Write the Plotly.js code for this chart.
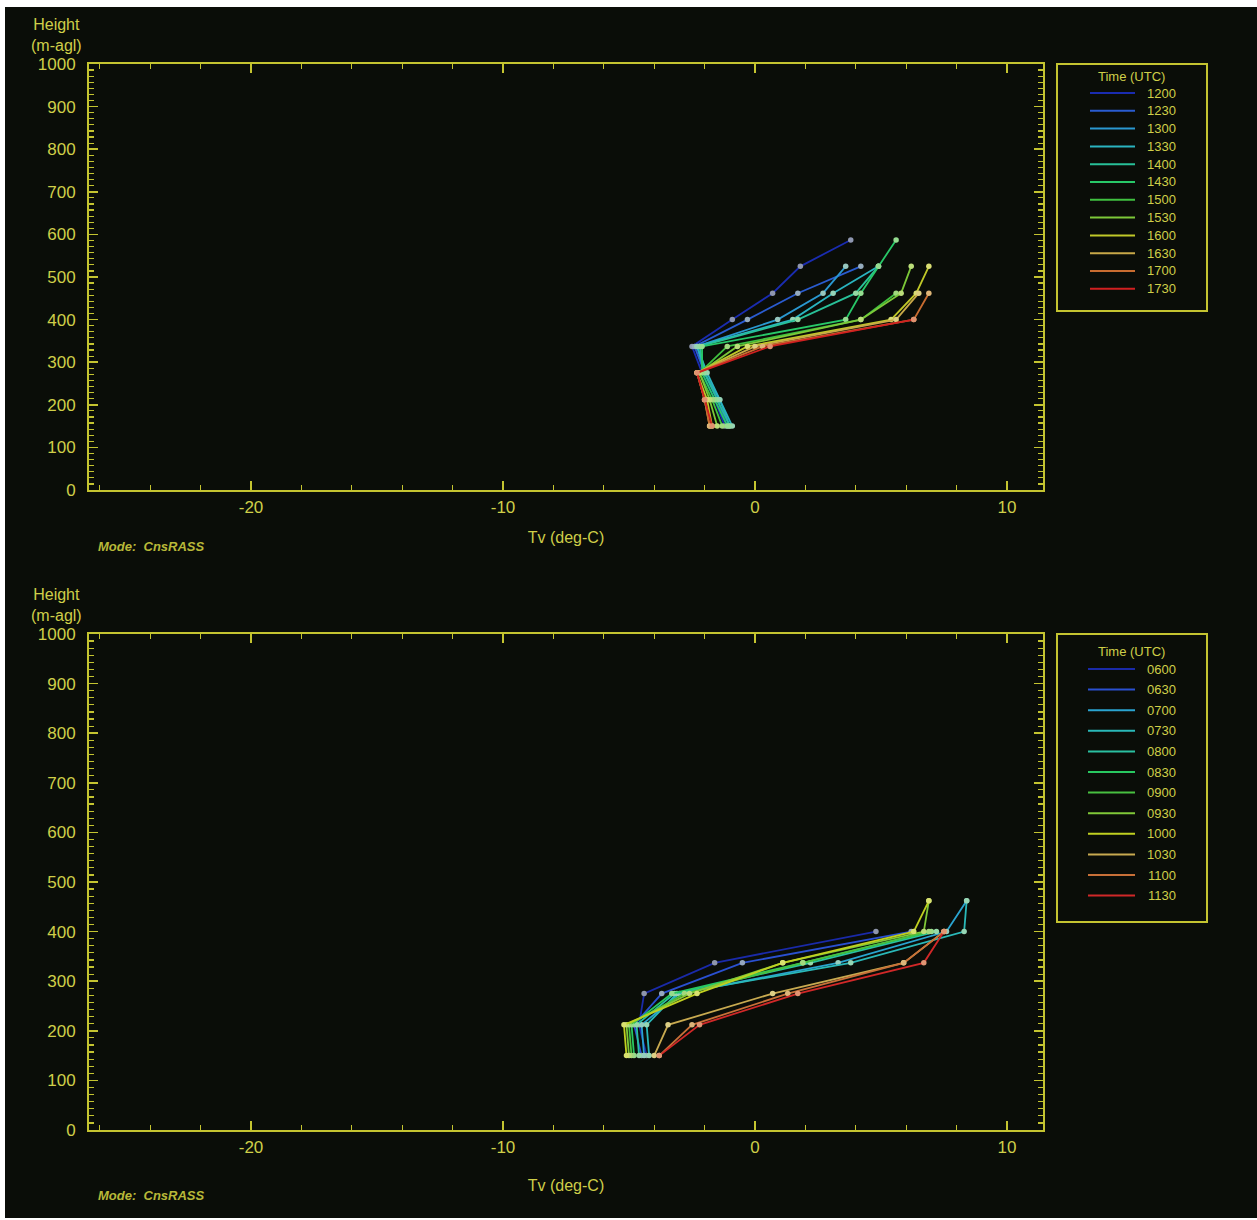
<!DOCTYPE html>
<html>
<head>
<meta charset="utf-8">
<script src="https://cdn.plot.ly/plotly-3.0.1.min.js"></script>
<style>
  html, body { margin: 0; padding: 0; background: #ffffff; }
  #chart { position: absolute; left: 5px; top: 7px; width: 1252px; height: 1211px; }
</style>
</head>
<body>
<div id="chart"></div>
<script>
// ---------------- DATA ----------------
// Heights (m-agl) of RASS range gates
const heightsTop = [150, 212, 275, 337, 400, 462, 525, 587];
const heightsBottom = [150, 212, 275, 337, 400, 462];

// Upper panel: times (UTC) 1200..1730, virtual temperature Tv (deg-C)
const timesTop = ["1200", "1230", "1300", "1330", "1400", "1430", "1500", "1530", "1600", "1630", "1700", "1730"];
const tv1200 = [-1.2, -1.6, -2.1, -2.5, -0.9, 0.7, 1.8, 3.8];
const tv1230 = [-1.1, -1.5, -2.0, -2.4, -0.3, 1.7, 4.2, null];
const tv1300 = [-1.0, -1.4, -2.0, -2.3, 0.9, 2.7, 3.6, null];
const tv1330 = [-0.9, -1.4, -1.9, -2.3, 1.5, 3.1, 4.9, null];
const tv1400 = [-1.0, -1.5, -2.0, -2.2, 1.7, 4.0, 4.9, null];
const tv1430 = [-1.1, -1.6, -2.1, -2.1, 3.6, 4.2, 4.9, 5.6];
const tv1500 = [-1.3, -1.7, -2.2, -1.1, 4.2, 5.6, null, null];
const tv1530 = [-1.5, -1.8, -2.2, -0.7, 4.2, 5.8, 6.2, null];
const tv1600 = [-1.7, -1.9, -2.3, -0.3, 5.4, 6.4, 6.9, null];
const tv1630 = [-1.8, -2.0, -2.3, 0.0, 5.6, 6.5, null, null];
const tv1700 = [-1.8, -2.0, -2.3, 0.3, 6.3, 6.9, null, null];
const tv1730 = [-1.7, -2.0, -2.3, 0.6, 6.3, null, null, null];
const seriesTop = [tv1200, tv1230, tv1300, tv1330, tv1400, tv1430, tv1500, tv1530, tv1600, tv1630, tv1700, tv1730];

// Lower panel: times (UTC) 0600..1130
const timesBottom = ["0600", "0630", "0700", "0730", "0800", "0830", "0900", "0930", "1000", "1030", "1100", "1130"];
const tv0600 = [-4.3, -4.6, -4.4, -1.6, 4.8, null];
const tv0630 = [-4.5, -4.8, -3.7, -0.5, 6.2, null];
const tv0700 = [-4.4, -4.5, -3.0, 3.3, 7.6, 8.4];
const tv0730 = [-4.2, -4.3, -3.1, 3.8, 8.3, 8.4];
const tv0800 = [-4.6, -4.7, -3.2, 2.2, 7.2, null];
const tv0830 = [-4.8, -4.9, -3.3, 1.9, 7.0, null];
const tv0900 = [-4.9, -5.0, -2.8, 1.9, 6.9, null];
const tv0930 = [-5.0, -5.1, -2.6, 1.1, 6.7, 6.9];
const tv1000 = [-5.1, -5.2, -2.3, 1.1, 6.3, 6.9];
const tv1030 = [-4.0, -3.45, 0.7, 5.9, 7.5, null];
const tv1100 = [-3.8, -2.5, 1.3, 5.9, 7.5, null];
const tv1130 = [-3.8, -2.2, 1.7, 6.7, 7.5, null];
const seriesBottom = [tv0600, tv0630, tv0700, tv0730, tv0800, tv0830, tv0900, tv0930, tv1000, tv1030, tv1100, tv1130];

// Tick labels and text
const xTickVals = [-20, -10, 0, 10];
const xTickText = ["-20", "-10", "0", "10"];
const xTitle = "Tv (deg-C)";
const yTitleLines = ["Height", "(m-agl)"];
const legendTitle = "Time (UTC)";
const modeText = "Mode:  CnsRASS";

// ---------------- STYLE ----------------
const colorsTop = ["#1a2cb0", "#2a5cd0", "#2a98d0", "#2ab4c0", "#28c098", "#28c868", "#40c040", "#7cc838", "#c0c828", "#c8a848", "#c86c30", "#d02020"];
const colorsBottom = ["#1a2aa8", "#2a50d0", "#2aa4d0", "#2ab8b8", "#2ac0a0", "#28c860", "#48c040", "#80c838", "#c0d020", "#c8aa50", "#c87038", "#d02828"];
const BG = "#0a0d08";
const AX = "#c4c430";
const TXT = "#cfcf48";
const FONT = "Liberation Sans, Arial, sans-serif";

const W = 1252, H = 1211, OX = 5, OY = 7;
const fx = p => (p - OX) / W;
const fy = p => 1 - (p - OY) / H;

function mix(hex, hex2, t) {
  const a = parseInt(hex.slice(1), 16), b = parseInt(hex2.slice(1), 16);
  const ch = (v, s) => (v >> s) & 255;
  const m = s => Math.round(ch(a, s) * (1 - t) + ch(b, s) * t);
  return "rgb(" + m(16) + "," + m(8) + "," + m(0) + ")";
}

const traces = [];
function addSeries(series, times, colors, heights, xa, ya) {
  series.forEach((vals, i) => {
    traces.push({
      type: "scatter", mode: "lines+markers",
      x: vals, y: heights, xaxis: xa, yaxis: ya,
      name: times[i], showlegend: false, connectgaps: false,
      line: { color: colors[i], width: 1.8 },
      marker: { size: 5.5, color: mix(colors[i], "#eeeeb0", 0.55), line: { width: 0 } },
      hoverinfo: "x+y+name"
    });
  });
}
addSeries(seriesTop, timesTop, colorsTop, heightsTop, "x", "y");
addSeries(seriesBottom, timesBottom, colorsBottom, heightsBottom, "x2", "y2");

function xAxis(domain, anchor, standoff) {
  return {
    domain: domain, anchor: anchor, range: [-26.43, 11.43],
    tickmode: "array", tickvals: xTickVals, ticktext: xTickText,
    showgrid: false, zeroline: false,
    showline: true, linecolor: AX, linewidth: 2, mirror: "ticks",
    ticks: "inside", ticklen: 9, tickwidth: 1.5, tickcolor: AX,
    minor: { tickmode: "linear", dtick: 2, tick0: 0, ticks: "inside", ticklen: 5, tickwidth: 1.2, tickcolor: AX, showgrid: false },
    tickfont: { family: FONT, size: 17, color: TXT },
    ticklabelstandoff: 1,
    title: { text: xTitle, font: { family: FONT, size: 16, color: TXT }, standoff: standoff },
    automargin: false, fixedrange: true
  };
}
function yAxis(domain, anchor) {
  return {
    domain: domain, anchor: anchor, range: [0, 1000],
    dtick: 100, tick0: 0,
    showgrid: false, zeroline: false,
    showline: true, linecolor: AX, linewidth: 2, mirror: "ticks",
    ticks: "inside", ticklen: 9, tickwidth: 1.5, tickcolor: AX,
    minor: { dtick: 100 / 7, tick0: 0, ticks: "inside", ticklen: 5, tickwidth: 1.2, tickcolor: AX, showgrid: false },
    tickfont: { family: FONT, size: 17, color: TXT },
    ticklabelstandoff: 8,
    automargin: false, fixedrange: true
  };
}

const shapes = [];
const annotations = [];

function panelText(axisTopPx, modeYpx) {
  annotations.push({
    xref: "paper", yref: "paper", x: fx(56), y: fy(axisTopPx - 29),
    xanchor: "center", yanchor: "middle", showarrow: false,
    text: yTitleLines.join("<br>"),
    font: { family: FONT, size: 16, color: TXT }
  });
  annotations.push({
    xref: "paper", yref: "paper", x: fx(96), y: fy(modeYpx),
    xanchor: "left", yanchor: "middle", showarrow: false,
    text: modeText,
    font: { family: FONT, size: 13, color: "#b8b838", style: "italic", weight: "bold" }
  });
}
panelText(64, 546);
panelText(634, 1195);

function legendBox(times, colors, top, bottom, titleY, firstY, step, lineX0, lineX1) {
  shapes.push({
    type: "rect", xref: "paper", yref: "paper",
    x0: fx(1057), x1: fx(1207), y0: fy(bottom), y1: fy(top),
    line: { color: AX, width: 2 }, fillcolor: BG
  });
  annotations.push({
    xref: "paper", yref: "paper", x: fx(1131), y: fy(titleY),
    xanchor: "center", yanchor: "middle", showarrow: false,
    text: legendTitle, font: { family: FONT, size: 13, color: TXT }
  });
  times.forEach((t, i) => {
    const yy = firstY + i * step;
    shapes.push({
      type: "line", xref: "paper", yref: "paper",
      x0: fx(lineX0), x1: fx(lineX1), y0: fy(yy), y1: fy(yy),
      line: { color: colors[i], width: 2 }
    });
    annotations.push({
      xref: "paper", yref: "paper", x: fx(1178), y: fy(yy),
      xanchor: "right", yanchor: "middle", showarrow: false,
      text: t, font: { family: FONT, size: 13, color: TXT }
    });
  });
}
legendBox(timesTop, colorsTop, 64, 311, 77, 93, 17.8, 1090, 1135);
legendBox(timesBottom, colorsBottom, 634, 922, 651, 669, 20.6, 1088, 1135);

const layout = {
  width: W, height: H,
  margin: { l: 0, r: 0, t: 0, b: 0 },
  paper_bgcolor: BG, plot_bgcolor: BG,
  showlegend: false,
  xaxis: xAxis([fx(89), fx(1043)], "y", 15),
  yaxis: yAxis([fy(490), fy(64)], "x"),
  xaxis2: xAxis([fx(89), fx(1043)], "y2", 23),
  yaxis2: yAxis([fy(1130), fy(634)], "x2"),
  shapes: shapes,
  annotations: annotations,
  font: { family: FONT, color: TXT }
};

Plotly.newPlot("chart", traces, layout, { displayModeBar: false, staticPlot: true });
</script>
</body>
</html>
